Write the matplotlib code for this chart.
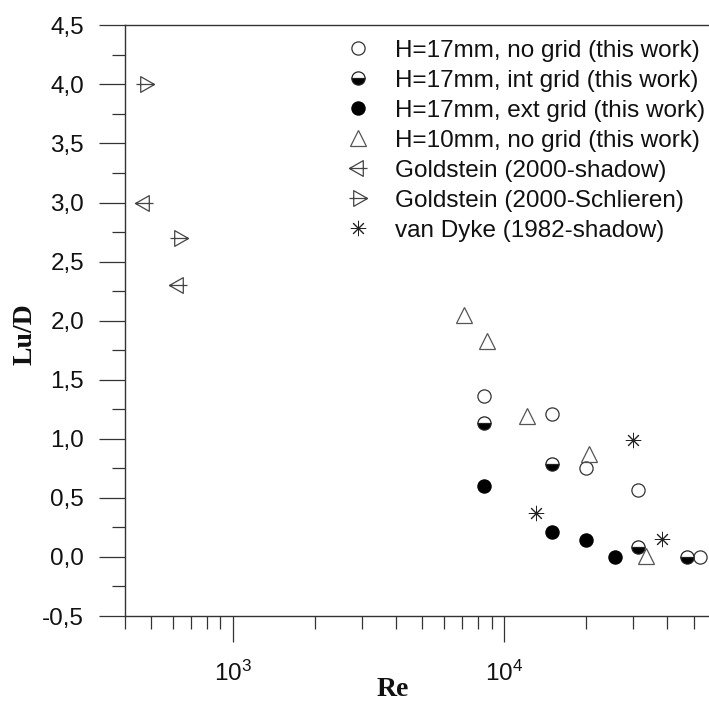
import matplotlib
matplotlib.use("Agg")
import matplotlib.pyplot as plt
from matplotlib.path import Path
from matplotlib.ticker import FixedLocator, FuncFormatter, LogLocator, NullFormatter

plt.rcParams['font.family'] = ['Liberation Sans', 'DejaVu Sans']
plt.rcParams['mathtext.fontset'] = 'custom'
plt.rcParams['mathtext.rm'] = 'Liberation Sans'

# ---- data ----
re_nogrid17 = [8400, 15000, 20000, 31200, 53000]
lu_nogrid17 = [1.36, 1.21, 0.75, 0.57, 0.00]

re_intgrid17 = [8400, 15000, 31200, 47300]
lu_intgrid17 = [1.13, 0.79, 0.08, 0.00]

re_extgrid17 = [8400, 15000, 20000, 25600]
lu_extgrid17 = [0.60, 0.21, 0.14, 0.00]

re_nogrid10 = [7100, 8650, 12200, 20600, 33500]
lu_nogrid10 = [2.05, 1.83, 1.19, 0.87, 0.01]

re_gold_shadow = [470, 630]
lu_gold_shadow = [3.0, 2.3]

re_gold_schl = [475, 635]
lu_gold_schl = [4.0, 2.7]

re_vandyke = [13100, 30000, 38400]
lu_vandyke = [0.37, 0.99, 0.15]

labels = ["H=17mm, no grid (this work)",
          "H=17mm, int grid (this work)",
          "H=17mm, ext grid (this work)",
          "H=10mm, no grid (this work)",
          "Goldstein (2000-shadow)",
          "Goldstein (2000-Schlieren)",
          "van Dyke (1982-shadow)"]

y_ticks = [-0.5, 0.0, 0.5, 1.0, 1.5, 2.0, 2.5, 3.0, 3.5, 4.0, 4.5]

# ---- custom markers: triangle with a horizontal line through it ----
M, L, C = Path.MOVETO, Path.LINETO, Path.CLOSEPOLY
left_tri = Path([(-1, 0), (0.53, 0.87), (0.53, -0.87), (-1, 0),
                 (-1, 0), (1.0, 0)],
                [M, L, L, C, M, L])
right_tri = Path([(1, 0), (-0.53, 0.87), (-0.53, -0.87), (1, 0),
                  (1, 0), (-1.0, 0)],
                 [M, L, L, C, M, L])

fig = plt.figure(figsize=(7.09, 7.03), dpi=100)
ax = fig.add_axes([125/709, 1-616/703, 1-125/709, (616-25.3)/703])

axc = '#333333'
ms_c = 9.5
ax.plot(re_nogrid17, lu_nogrid17, ls='none', marker='o', ms=ms_c,
        mfc='white', mec='#333333', mew=0.9, label=labels[0], zorder=3)
ax.plot(re_intgrid17, lu_intgrid17, ls='none', marker='o', ms=ms_c,
        fillstyle='bottom', mfc='black', mfcalt='white', mec='#222222',
        mew=0.9, label=labels[1], zorder=3)
ax.plot(re_extgrid17, lu_extgrid17, ls='none', marker='o', ms=ms_c,
        mfc='black', mec='black', mew=0.9, label=labels[2], zorder=3)
ax.plot(re_nogrid10, lu_nogrid10, ls='none', marker='^', ms=11,
        mfc='none', mec='#555555', mew=0.9, label=labels[3], zorder=3)
ax.plot(re_gold_shadow, lu_gold_shadow, ls='none', marker=left_tri, ms=13,
        mfc='none', mec='#444444', mew=0.9, label=labels[4], zorder=3)
ax.plot(re_gold_schl, lu_gold_schl, ls='none', marker=right_tri, ms=13,
        mfc='none', mec='#444444', mew=0.9, label=labels[5], zorder=3)
ax.plot(re_vandyke, lu_vandyke, ls='none', marker=(8, 2, 0), ms=11,
        mec='#222222', mew=0.7, label=labels[6], zorder=3)

ax.set_xscale('log')
ax.set_xlim(400, 57000)
ax.set_ylim(-0.5, 4.5)

ax.yaxis.set_major_locator(FixedLocator(y_ticks))
ax.yaxis.set_minor_locator(FixedLocator([v + 0.25 for v in y_ticks[:-1]]))
ax.yaxis.set_major_formatter(FuncFormatter(lambda v, p: f"{v:.1f}".replace('.', ',')))
ax.xaxis.set_major_locator(LogLocator(base=10, numticks=10))
ax.xaxis.set_minor_locator(LogLocator(base=10, subs=range(2, 10), numticks=50))
ax.xaxis.set_minor_formatter(NullFormatter())

for s in ['left', 'bottom', 'top']:
    ax.spines[s].set_color(axc)
    ax.spines[s].set_linewidth(1.0)
ax.spines['right'].set_visible(False)

ax.tick_params(axis='both', which='major', direction='out', length=18.5,
               width=0.9, color=axc, labelsize=17.5, labelcolor='#111111')
ax.tick_params(axis='both', which='minor', direction='out', length=9.6,
               width=0.9, color=axc)
ax.tick_params(axis='y', which='major', pad=11)
ax.tick_params(axis='x', which='major', pad=14)

ax.set_xlabel('Re', fontfamily='Liberation Serif', fontweight='bold',
              fontsize=20, color='#111111')
ax.xaxis.set_label_coords((393 - 125) / 584, -0.104)
ax.set_ylabel('Lu/D', fontfamily='Liberation Serif', fontweight='bold',
              fontsize=20, color='#111111')
ax.yaxis.set_label_coords(-(125 - 38) / 584, (616 - 334) / 590.7)

leg = ax.legend(loc='upper left', bbox_to_anchor=(336/709, 1 - 30/703),
                bbox_transform=fig.transFigure, frameon=False,
                fontsize=17.5, handlelength=1.0, handletextpad=1.02,
                labelspacing=0.33, borderaxespad=0, numpoints=1)
for t in leg.get_texts():
    t.set_color('#111111')

fig.savefig('out.png', dpi=100)
